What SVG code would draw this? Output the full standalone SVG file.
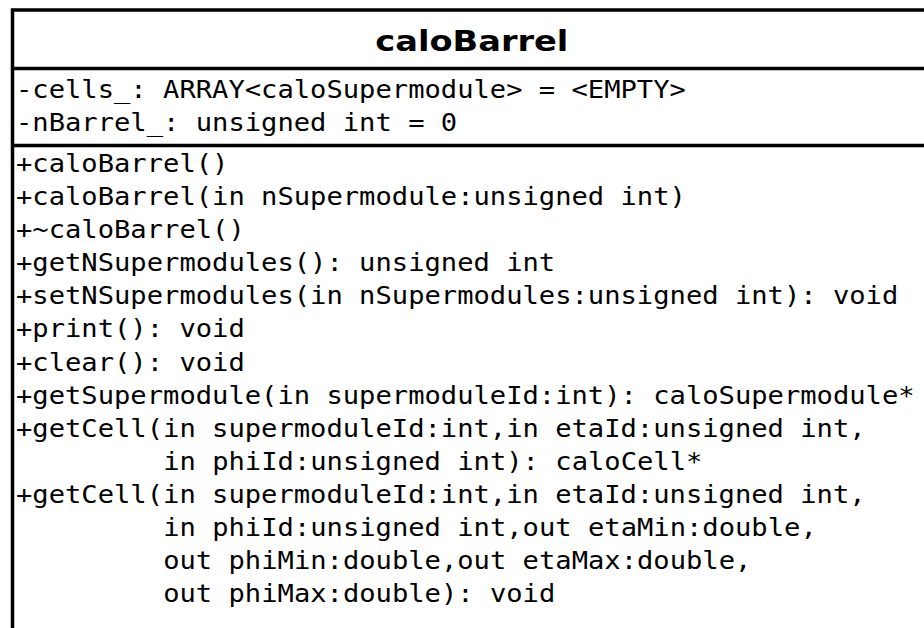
<svg xmlns="http://www.w3.org/2000/svg" width="924" height="628" viewBox="0 0 924 628">
<style>
.m{font-family:"DejaVu Sans Mono",monospace;font-size:24px;fill:#000}
.h{font-family:"DejaVu Sans",sans-serif;font-weight:bold;font-size:28.5px;fill:#000}
.b{fill:#fff;stroke:#000;stroke-width:3.5}
.l{stroke:#000;stroke-width:3.5;fill:none}
</style>
<rect width="924" height="628" fill="#fff"/>
<g id="caloBarrel">
<rect class="b" x="12.5" y="10" width="919" height="640"/>
<line class="l" x1="12.5" y1="68.5" x2="931.5" y2="68.5"/>
<line class="l" x1="12.5" y1="145.5" x2="931.5" y2="145.5"/>
<text class="h" transform="scale(1.18 1)" x="399.9" y="51.5" text-anchor="middle">caloBarrel</text>
<g transform="scale(1.1316 1)">
<text class="m" x="14.14" y="98">-cells_: ARRAY&lt;caloSupermodule&gt; = &lt;EMPTY&gt;</text>
<text class="m" x="14.14" y="131.5">-nBarrel_: unsigned int = 0</text>
<text class="m" x="14.14" y="172">+caloBarrel()</text>
<text class="m" x="14.14" y="205.1">+caloBarrel(in nSupermodule:unsigned int)</text>
<text class="m" x="14.14" y="238.2">+~caloBarrel()</text>
<text class="m" x="14.14" y="271.3">+getNSupermodules(): unsigned int</text>
<text class="m" x="14.14" y="304.4">+setNSupermodules(in nSupermodules:unsigned int): void</text>
<text class="m" x="14.14" y="337.5">+print(): void</text>
<text class="m" x="14.14" y="370.6">+clear(): void</text>
<text class="m" x="14.14" y="403.7">+getSupermodule(in supermoduleId:int): caloSupermodule*</text>
<text class="m" x="14.14" y="436.8">+getCell(in supermoduleId:int,in etaId:unsigned int,</text>
<text class="m" x="144.2" y="469.9">in phiId:unsigned int): caloCell*</text>
<text class="m" x="14.14" y="503">+getCell(in supermoduleId:int,in etaId:unsigned int,</text>
<text class="m" x="144.2" y="536.1">in phiId:unsigned int,out etaMin:double,</text>
<text class="m" x="144.2" y="569.2">out phiMin:double,out etaMax:double,</text>
<text class="m" x="144.2" y="602.3">out phiMax:double): void</text>
</g>
</g>
<g id="connectors"/>
</svg>
